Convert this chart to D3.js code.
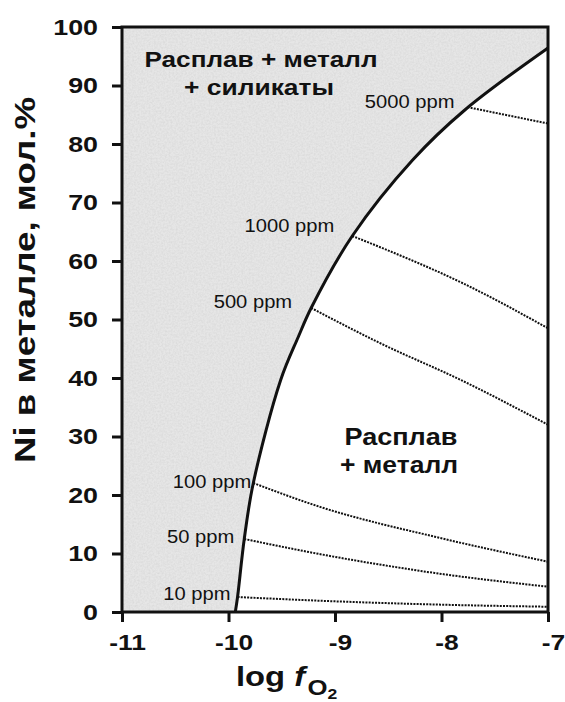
<!DOCTYPE html>
<html>
<head>
<meta charset="utf-8">
<script src="https://cdn.jsdelivr.net/npm/d3@7/dist/d3.min.js"></script>
<style>
  body { margin: 0; background: #fff; }
  text { font-family: "Liberation Sans", Arial, sans-serif; fill: #111; }
</style>
</head>
<body>
<svg id="chart" width="565" height="702"></svg>
<script>
// Phase boundary: melt + metal + silicates / melt + metal
const boundaryLogFO2 = [-9.936, -9.915, -9.852, -9.767, -9.51, -9.345, -9.224, -8.838, -8.271, -7.781, -7];
const boundaryNi     = [0, 2.56, 12.48, 22.05, 39.66, 47.01, 51.97, 64.27, 77.26, 85.81, 96.41];

// Iso-concentration lines in the melt + metal field
const isoLabels = ["10 ppm", "50 ppm", "100 ppm", "500 ppm", "1000 ppm", "5000 ppm"];
const iso10LogFO2   = [-9.915, -9.146, -8.0, -7];
const iso10Ni       = [2.56, 1.93, 1.25, 0.9];
const iso50LogFO2   = [-9.852, -9.146, -8.064, -7];
const iso50Ni       = [12.48, 9.91, 6.67, 4.32];
const iso100LogFO2  = [-9.767, -9.146, -8.064, -7];
const iso100Ni      = [22.05, 18.0, 12.87, 8.6];
const iso500LogFO2  = [-9.224, -8.581, -7.8, -7];
const iso500Ni      = [51.97, 46.0, 39.5, 32.0];
const iso1000LogFO2 = [-8.838, -8.581, -7.8, -7];
const iso1000Ni     = [64.27, 62.4, 56.2, 48.5];
const iso5000LogFO2 = [-7.756, -7];
const iso5000Ni     = [86.3, 83.5];

const xTicks = [-11, -10, -9, -8, -7];
const yTicks = [0, 10, 20, 30, 40, 50, 60, 70, 80, 90, 100];

const isoSeries = [
  [iso10LogFO2, iso10Ni], [iso50LogFO2, iso50Ni], [iso100LogFO2, iso100Ni],
  [iso500LogFO2, iso500Ni], [iso1000LogFO2, iso1000Ni], [iso5000LogFO2, iso5000Ni]
];
// label placement relative to the start of each iso line (px)
const isoLabelOffset = [[-7, 2.5], [-10, 4.5], [-2, 4.5], [-19, 0.5], [-18, -4.5], [-13, 0.5]];

const svg = d3.select("#chart");
const x = d3.scaleLinear().domain([-11, -7]).range([122, 548]);
const y = d3.scaleLinear().domain([0, 100]).range([612, 27]);

const boundary = boundaryLogFO2.map((v, i) => [v, boundaryNi[i]]);
const smooth = d3.line().x(d => x(d[0])).y(d => y(d[1])).curve(d3.curveCatmullRom.alpha(0.5));
const gentle = d3.line().x(d => x(d[0])).y(d => y(d[1])).curve(d3.curveMonotoneX);

// grain for the shaded field
const defs = svg.append("defs");
const grain = defs.append("filter").attr("id", "grain")
  .attr("x", 0).attr("y", 0).attr("width", 1).attr("height", 1);
grain.append("feTurbulence").attr("type", "fractalNoise")
  .attr("baseFrequency", 0.55).attr("numOctaves", 2).attr("seed", 7).attr("result", "n");
grain.append("feColorMatrix").attr("in", "n").attr("type", "matrix")
  .attr("values", "0 0 0 0 0.45  0 0 0 0 0.45  0 0 0 0 0.45  0 0 0 -1.6 1.05");

// shaded field left of the boundary
const bPath = smooth(boundary);
const fieldD = bPath + `L${x(-7)},${y(100)}L${x(-11)},${y(100)}L${x(-11)},${y(0)}Z`;
defs.append("clipPath").attr("id", "field").append("path").attr("d", fieldD);
svg.append("path").attr("d", fieldD).attr("fill", "#e6e6e6");
svg.append("rect")
  .attr("x", x(-11)).attr("y", y(100))
  .attr("width", x(-7) - x(-11)).attr("height", y(0) - y(100))
  .attr("clip-path", "url(#field)")
  .attr("filter", "url(#grain)")
  .attr("opacity", 0.25);

// iso-concentration dotted lines
isoSeries.forEach(([xs, ys], k) => {
  const pts = xs.map((v, i) => [v, ys[i]]);
  svg.append("path")
    .attr("d", gentle(pts))
    .attr("fill", "none")
    .attr("stroke", "#111")
    .attr("stroke-width", 2)
    .attr("stroke-dasharray", "2,1.2");
  const [dx, dy] = isoLabelOffset[k];
  svg.append("text")
    .attr("transform", `translate(${x(xs[0]) + dx},${y(ys[0]) + dy}) scale(1.12,1)`)
    .attr("text-anchor", "end")
    .attr("font-size", 18)
    .attr("fill", "#222")
    .text(isoLabels[k]);
});

// boundary curve
svg.append("path")
  .attr("d", bPath)
  .attr("fill", "none")
  .attr("stroke", "#111")
  .attr("stroke-width", 3);

// axes
const xAxis = svg.append("g")
  .attr("transform", `translate(0,${y(0)})`)
  .call(d3.axisBottom(x).tickValues(xTicks).tickSize(10).tickFormat(d3.format("d")));
xAxis.select(".domain").remove();
xAxis.selectAll(".tick line").attr("stroke", "#111").attr("stroke-width", 3);
xAxis.selectAll(".tick text")
  .attr("y", 0).attr("dy", 0)
  .attr("transform", "translate(5,38) scale(1.2,1)")
  .attr("font-size", 22).attr("font-weight", "bold").attr("fill", "#111")
  .text(d => d < 0 ? "-" + Math.abs(d) : d);

const yAxis = svg.append("g")
  .attr("transform", `translate(${x(-11)},0)`)
  .call(d3.axisLeft(y).tickValues(yTicks).tickSize(10));
yAxis.select(".domain").remove();
yAxis.selectAll(".tick line").attr("stroke", "#111").attr("stroke-width", 3);
yAxis.selectAll(".tick text")
  .attr("x", 0)
  .attr("transform", "translate(-24,0) scale(1.22,1)")
  .attr("font-size", 22).attr("font-weight", "bold").attr("fill", "#111");

// frame
svg.append("rect")
  .attr("x", x(-11)).attr("y", y(100))
  .attr("width", x(-7) - x(-11)).attr("height", y(0) - y(100))
  .attr("fill", "none").attr("stroke", "#111").attr("stroke-width", 3);

// field labels
function fieldLabel(txt, cx, by, size, len) {
  svg.append("text")
    .attr("x", cx).attr("y", by)
    .attr("text-anchor", "middle")
    .attr("font-size", size).attr("font-weight", "bold")
    .attr("textLength", len).attr("lengthAdjust", "spacingAndGlyphs")
    .text(txt);
}
fieldLabel("Расплав + металл", 261, 67, 22, 233);
fieldLabel("+ силикаты", 259, 95, 22, 150);
fieldLabel("Расплав", 401, 445, 23, 113);
fieldLabel("+ металл", 399, 473, 23, 118);

// axis titles
svg.append("text")
  .attr("transform", "translate(35,280) rotate(-90)")
  .attr("text-anchor", "middle")
  .attr("font-size", 29).attr("font-weight", "bold")
  .attr("textLength", 366).attr("lengthAdjust", "spacingAndGlyphs")
  .text("Ni в металле, мол.%");

const xt = svg.append("text")
  .attr("transform", "translate(236,686) scale(1.17,1)")
  .attr("font-weight", "bold");
xt.append("tspan").attr("font-size", 28).text("log ");
xt.append("tspan").attr("font-size", 28).attr("font-style", "italic").text("f");
xt.append("tspan").attr("font-size", 22).attr("dx", 2).attr("dy", 9).text("O");
xt.append("tspan").attr("font-size", 15).attr("dy", 4).text("2");
</script>
</body>
</html>
